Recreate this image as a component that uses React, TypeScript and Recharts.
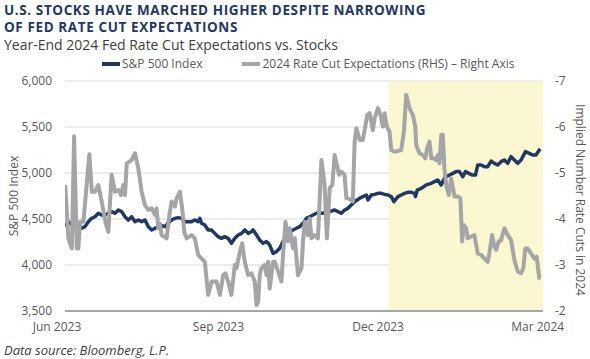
import React from "react";
import { LineChart, Line, XAxis, YAxis, CartesianGrid, ReferenceArea } from "recharts";

// x values are days counted from Jun 1, 2023
const tickDays = [4.5, 92, 183, 274];
const tickLabels = ["Jun 2023", "Sep 2023", "Dec 2023", "Mar 2024"];
const leftTicks = [3500, 4000, 4500, 5000, 5500, 6000];
const rightTicks = [-7, -6, -5, -4, -3, -2];
const shadeStart = 189;
const shadeEnd = 277;

const spxDays = [
  4.6, 6.4, 8.4, 10.2, 12.1, 14.1, 15.9, 17.8, 19.7, 21.6, 23.5, 25.4, 27.3, 29.2, 31.1, 33.0, 34.9, 36.8,
  38.7, 40.6, 42.5, 44.4, 46.3, 48.2, 50.1, 52.0, 53.9, 55.8, 57.7, 58.6, 61.5, 63.3, 65.3, 67.2, 69.0, 71.0,
  72.9, 74.7, 76.7, 78.5, 80.4, 81.4, 82.4, 84.2, 86.1, 88.0, 89.9, 91.8, 93.7, 95.6, 97.5, 99.4, 101.3, 103.2,
  105.1, 107.0, 108.9, 110.8, 111.7, 113.7, 115.5, 117.4, 119.4, 121.2, 123.1, 125.0, 126.9, 128.8, 130.7,
  132.6, 134.5, 136.4, 138.3, 140.2, 142.1, 144.0, 145.9, 147.8, 151.6, 153.5, 155.4, 158.2, 160.1, 162.0,
  163.9, 165.8, 167.7, 169.6, 172.5, 174.3, 176.3, 177.2, 179.1, 181.0, 182.9, 184.8, 186.7, 188.6, 190.5,
  192.0, 194.3, 196.2, 198.1, 199.9, 201.9, 203.8, 204.3, 205.3, 207.6, 210.4, 213.3, 215.1, 217.0, 218.9,
  220.8, 221.8, 223.7, 225.6, 227.5, 229.4, 231.3, 232.8, 234.7, 236.6, 238.5, 239.8, 241.7, 243.6, 245.5,
  247.4, 249.3, 251.2, 253.1, 255.0, 256.9, 258.8, 260.7, 262.6, 264.5, 267.0, 269.2, 271.1, 273.0, 274.9, 275.5,
];
const spxLevels = [
  4417, 4471, 4435, 4453, 4435, 4399, 4417, 4471, 4507, 4525, 4562, 4544, 4544, 4562, 4580, 4562, 4598, 4580,
  4525, 4489, 4525, 4471, 4489, 4471, 4489, 4417, 4381, 4399, 4417, 4435, 4417, 4453, 4489, 4507, 4515, 4507,
  4471, 4471, 4471, 4489, 4471, 4507, 4453, 4435, 4381, 4381, 4344, 4308, 4290, 4308, 4290, 4236, 4290, 4326,
  4344, 4381, 4344, 4362, 4381, 4326, 4272, 4236, 4254, 4217, 4127, 4145, 4181, 4254, 4326,
  4362, 4381, 4399, 4417, 4453, 4507, 4525, 4544, 4562, 4562, 4580, 4580, 4598, 4580, 4562,
  4598, 4616, 4652, 4688, 4725, 4743, 4761, 4707, 4761, 4768, 4779, 4779, 4768, 4761, 4743,
  4688, 4743, 4761, 4779, 4790, 4790, 4779, 4743, 4815, 4833, 4870, 4888, 4906, 4924, 4870,
  4942, 4960, 4978, 4996, 5015, 5015, 4960, 5015, 4996, 4978, 4978, 5087, 5087, 5069, 5069,
  5130, 5105, 5087, 5123, 5141, 5105, 5178, 5141, 5105, 5141, 5232, 5214, 5196, 5196, 5250, 5261,
];

const cutDays = [
  4.6, 6.4, 8.4, 9.7, 11.2, 12.1, 13.1, 15.0, 18.4, 19.8, 21.6, 23.5, 25.4, 27.7, 29.2, 31.1, 33.0, 34.9,
  36.4, 37.7, 38.7, 39.7, 42.5, 44.4, 46.3, 48.2, 50.1, 52.0, 53.9, 55.8, 56.7, 57.7, 58.6, 59.6, 62.4, 64.3,
  65.3, 67.2, 68.1, 70.0, 71.3, 72.5, 73.8, 76.7, 78.5, 80.4, 82.4, 84.2, 86.1, 88.1, 90.9, 92.8, 94.7, 96.0,
  97.5, 99.4, 101.3, 102.3, 104.2, 105.5, 107.0, 108.9, 110.8, 112.7, 113.7, 114.6, 115.5, 116.5, 118.4, 119.4,
  120.3, 121.2, 123.1, 124.1, 126.0, 127.9, 128.8, 130.2, 131.6, 132.6, 134.5, 135.5, 137.3, 139.3, 140.2, 141.2,
  143.0, 144.0, 145.0, 146.8, 148.7, 150.7, 152.5, 153.8, 155.4, 156.9, 158.2, 159.5, 160.7, 162.0, 163.9, 164.9,
  165.8, 167.7, 168.6, 169.6, 170.6, 172.5, 174.3, 175.3, 176.8, 178.2, 179.1, 180.0, 181.0, 182.9, 184.4, 185.7,
  186.7, 188.0, 189.5, 190.5, 192.4, 196.2, 197.7, 199.0, 200.9, 202.8, 204.2, 204.7, 206.6, 208.5, 209.9, 211.0,
  212.3, 213.3, 214.7, 216.1, 217.0, 218.0, 219.0, 219.9, 220.8, 221.8, 223.3, 224.6, 225.6, 226.5, 228.4, 229.9,
  230.9, 231.8, 233.2, 234.1, 236.0, 237.9, 239.8, 241.7, 243.6, 245.5, 246.4, 248.0, 249.3, 250.3, 251.7, 253.1,
  255.0, 256.9, 258.8, 260.7, 262.6, 264.5, 265.8, 266.9, 268.2, 270.2, 272.1, 273.4, 274.9, 275.5,
];
const cutValues = [
  -4.74, -3.58, -3.36, -5.8, -3.36, -3.36, -3.94, -3.94, -5.41, -4.59, -4.59, -4.74, -4.38, -3.91, -3.72, -4.96, -4.59, -4.63,
  -4.52, -4.74, -4.52, -5.21, -5.28, -5.43, -5.1, -4.59, -4.3, -4.2, -4.23, -4.09, -4.23, -3.8, -3.9, -3.65, -3.58, -4.16,
  -4.38, -4.27, -4.45, -4.59, -4.23, -3.72, -3.58, -3.65, -3.58, -3.22, -3.14, -3.07, -2.35, -2.64, -2.64, -2.35, -2.78, -2.82,
  -2.64, -2.35, -3.0, -2.93, -3.29, -3.47, -3.07, -2.78, -2.82, -2.64, -2.13, -2.2, -2.78, -2.93, -3.0, -2.78,
  -3.07, -2.49, -3.07, -3.07, -2.86, -2.64, -3.22, -3.94, -3.51, -3.8, -3.36, -3.58, -2.78, -2.93, -3.51, -3.94,
  -3.65, -4.01, -3.58, -3.65, -3.58, -5.28, -4.74, -3.58, -4.67, -4.74, -5.39, -5.17, -4.96, -5.03, -4.96, -4.45,
  -4.45, -4.41, -4.38, -5.68, -5.97, -5.72, -5.72, -5.93, -6.26, -6.3, -6.12, -5.93, -6.19, -6.41, -6.26, -6.01,
  -6.3, -6.01, -5.9, -5.5, -5.46, -5.5, -5.9, -6.7, -6.41, -6.26, -6.01, -5.61, -5.43, -5.39, -5.32, -5.54,
  -5.68, -5.32, -5.32, -5.28, -5.39, -5.21, -5.83, -5.83, -5.1, -4.74, -4.52, -4.88, -4.7, -4.49, -4.49, -4.45,
  -3.51, -3.87, -3.8, -3.58, -3.62, -3.65, -3.25, -3.22, -3.14, -3.07, -3.25, -3.65, -3.4, -3.33, -3.51, -3.54,
  -3.8, -3.65, -3.54, -3.11, -2.86, -2.82, -2.93, -3.36, -3.36, -3.25, -3.14, -3.18, -2.71, -2.71,
];

const spxData = spxDays.map((d, i) => ({ day: d, spx: spxLevels[i] }));
const cutData = cutDays.map((d, i) => ({ day: d, cuts: cutValues[i] }));

const navy = "#1F3864";
const grey = "#A5A5A7";
const textGrey = "#595959";
const font = "'Open Sans', sans-serif";

function XTick(props: any) {
  const { x, y, payload } = props;
  const i = tickDays.indexOf(payload.value);
  const shift = i === 0 ? -8 : 0; // first label sits a bit left of the plot edge
  return (
    <text x={x + shift} y={y} dy={12} textAnchor="middle" fill={textGrey} fontSize={12} fontFamily={font}>
      {tickLabels[i]}
    </text>
  );
}

export default function App() {
  return (
    <div style={{ position: "absolute", left: 0, top: 0, width: 590, height: 359, background: "#fff", fontFamily: font }}>
      <div style={{ position: "absolute", left: 4, top: 2, color: navy, fontWeight: 700, fontSize: 13.5, letterSpacing: 0.6, lineHeight: "17px" }}>
        U.S. STOCKS HAVE MARCHED HIGHER DESPITE NARROWING
        <br />
        OF FED RATE CUT EXPECTATIONS
      </div>
      <div style={{ position: "absolute", left: 4, top: 37, color: "#404040", fontSize: 14, lineHeight: "15px" }}>
        Year-End 2024 Fed Rate Cut Expectations vs. Stocks
      </div>

      {/* legend */}
      <div style={{ position: "absolute", left: 102, top: 56, fontSize: 12, color: textGrey, display: "flex", alignItems: "center", lineHeight: "16px" }}>
        <span style={{ display: "inline-block", width: 18, height: 4, background: navy, marginRight: 2 }} />
        <span>S&amp;P 500 Index</span>
        <span style={{ display: "inline-block", width: 18, height: 4, background: grey, marginLeft: 40, marginRight: 2 }} />
        <span>2024 Rate Cut Expectations (RHS) – Right Axis</span>
      </div>

      <div style={{ position: "absolute", left: 0, top: 0 }}>
        <LineChart width={590} height={359} margin={{ top: 81, right: 0, bottom: 0, left: 0 }}>
          <ReferenceArea yAxisId="left" x1={shadeStart} x2={shadeEnd} fill="#FBF7D0" fillOpacity={1} stroke="none" />
          <CartesianGrid yAxisId="left" vertical={false} stroke="#D9D9D9" strokeWidth={1.2} />
          <XAxis
            type="number"
            dataKey="day"
            domain={[4.5, shadeEnd]}
            ticks={tickDays}
            interval={0}
            allowDataOverflow
            height={48}
            tickLine={false}
            axisLine={{ stroke: "#A6A6A6", strokeWidth: 2 }}
            tick={<XTick />}
          />
          <YAxis
            yAxisId="left"
            domain={[3500, 6000]}
            ticks={leftTicks}
            width={65}
            axisLine={false}
            tickLine={false}
            tickMargin={7}
            tick={{ fill: textGrey, fontSize: 12, fontFamily: font }}
            tickFormatter={(v: number) => v.toLocaleString("en-US")}
            label={{
              content: (p: any) => {
                const vb = p.viewBox;
                const cx = 13;
                const cy = vb.y + vb.height / 2;
                return (
                  <text x={cx} y={cy} transform={`rotate(-90 ${cx} ${cy})`} textAnchor="middle" dominantBaseline="central" fill={textGrey} fontSize={12} fontFamily={font}>
                    S&amp;P 500 Index
                  </text>
                );
              },
            }}
          />
          <YAxis
            yAxisId="right"
            orientation="right"
            domain={[-7, -2]}
            reversed
            ticks={rightTicks}
            width={47}
            axisLine={false}
            tickLine={false}
            tickMargin={6}
            tick={{ fill: textGrey, fontSize: 12, fontFamily: font }}
            label={{
              content: (p: any) => {
                const vb = p.viewBox;
                const cx = 580;
                const cy = vb.y + vb.height / 2 + 4;
                return (
                  <text x={cx} y={cy} transform={`rotate(90 ${cx} ${cy})`} textAnchor="middle" dominantBaseline="central" fill={textGrey} fontSize={12} fontFamily={font}>
                    Implied Number Rate Cuts in 2024
                  </text>
                );
              },
            }}
          />
          <Line
            yAxisId="left"
            data={spxData}
            dataKey="spx"
            type="linear"
            stroke={navy}
            strokeWidth={3.5}
            strokeLinejoin="round"
            dot={false}
            isAnimationActive={false}
          />
          <Line
            yAxisId="right"
            data={cutData}
            dataKey="cuts"
            type="linear"
            stroke={grey}
            strokeWidth={4}
            strokeLinejoin="round"
            dot={false}
            isAnimationActive={false}
          />
        </LineChart>
      </div>

      <div style={{ position: "absolute", left: 4, top: 341, fontStyle: "italic", fontSize: 13, color: "#404040", lineHeight: "18px" }}>
        Data source: Bloomberg, L.P.
      </div>
    </div>
  );
}
